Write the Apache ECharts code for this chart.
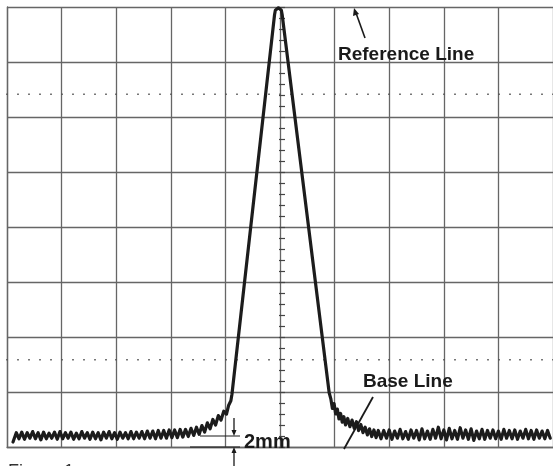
<!DOCTYPE html>
<html><head><meta charset="utf-8">
<script src="https://cdn.jsdelivr.net/npm/echarts@6/dist/echarts.min.js"></script>
<style>html,body{margin:0;padding:0;background:#fff}#c{width:553px;height:466px}</style>
</head><body><div id="c"></div>
<script>
// x in screen divisions, y in mm (1 division = 10 mm)
const xDivisions = [0, 10];
const yRangeMM = [0, 80];
const dottedLevelsMM = [16, 64];
const baseLineMM = 2;
const leftBaseline = [[0.11,0.9],[0.17,2.6],[0.22,1.5],[0.27,2.7],[0.32,1.4],[0.37,2.6],[0.42,1.6],[0.47,2.8],[0.52,1.5],[0.57,2.6],[0.62,1.3],[0.67,2.7],[0.72,1.5],[0.77,2.5],[0.82,1.6],[0.87,2.7],[0.92,1.4],[0.97,2.8],[1.02,1.5],[1.07,2.6],[1.12,1.6],[1.17,2.7],[1.22,1.4],[1.27,2.5],[1.32,1.5],[1.37,2.8],[1.42,1.6],[1.47,2.6],[1.52,1.4],[1.57,2.7],[1.62,1.5],[1.67,2.6],[1.72,1.3],[1.77,2.7],[1.82,1.6],[1.87,2.8],[1.92,1.5],[1.97,2.6],[2.02,1.4],[2.07,2.7],[2.12,1.6],[2.17,2.6],[2.22,1.5],[2.27,2.8],[2.32,1.5],[2.37,2.7],[2.42,1.6],[2.47,2.8],[2.52,1.5],[2.57,2.9],[2.62,1.6],[2.67,2.9],[2.72,1.5],[2.77,3.0],[2.82,1.6],[2.87,3.0],[2.92,1.6],[2.97,3.1],[3.02,1.7],[3.07,3.1],[3.12,1.7],[3.17,3.2]];
const leftRise = [[3.22,1.8],[3.27,3.2],[3.32,1.9],[3.37,3.4],[3.42,2.1],[3.47,3.6],[3.52,2.3],[3.57,3.9],[3.62,2.7],[3.67,4.4],[3.72,3.3],[3.77,5.0],[3.82,4.0],[3.87,5.7],[3.92,4.9],[3.97,6.5],[4.02,6.0],[4.06,7.6],[4.10,8.4],[4.12,9.6]];
const peak = [[4.90,78.6],[4.915,79.4],[4.94,79.75],[4.97,79.85],[5.0,79.75],[5.025,79.4],[5.04,78.6],[5.90,9.9]];
const rightFall = [[5.93,8.8],[5.96,7.0],[5.99,7.9],[6.02,6.0],[6.05,6.9],[6.08,5.1],[6.11,6.1],[6.14,4.5],[6.17,5.5],[6.20,4.0],[6.24,5.2],[6.28,3.7],[6.32,4.9],[6.36,3.4],[6.40,4.6],[6.44,3.0],[6.48,4.1],[6.52,2.6],[6.56,3.6],[6.60,2.2],[6.64,3.3],[6.68,1.9],[6.72,3.1],[6.76,1.7],[6.80,3.0]];
const rightBaseline = [[6.85,1.5],[6.90,3.0],[6.95,1.6],[7.00,3.1],[7.05,1.4],[7.10,2.9],[7.15,1.6],[7.20,3.2],[7.25,1.5],[7.30,2.8],[7.35,1.4],[7.40,3.1],[7.45,1.6],[7.50,3.0],[7.55,1.3],[7.60,3.3],[7.65,1.5],[7.70,2.9],[7.75,1.4],[7.80,3.2],[7.85,1.6],[7.90,3.6],[7.95,1.5],[8.00,3.1],[8.05,1.3],[8.10,3.4],[8.15,1.5],[8.20,3.0],[8.25,1.4],[8.30,3.5],[8.35,1.6],[8.40,3.1],[8.45,1.4],[8.50,3.3],[8.55,1.2],[8.60,2.9],[8.65,1.5],[8.70,3.2],[8.75,1.4],[8.80,3.0],[8.85,1.6],[8.90,3.1],[8.95,1.5],[9.00,2.9],[9.05,1.4],[9.10,3.2],[9.15,1.6],[9.20,3.0],[9.25,1.5],[9.30,3.1],[9.35,1.4],[9.40,2.9],[9.45,1.6],[9.50,3.2],[9.55,1.5],[9.60,3.0],[9.65,1.4],[9.70,3.1],[9.75,1.6],[9.80,2.9],[9.85,1.5],[9.90,3.0],[9.95,1.6]];
const labels = { reference: 'Reference Line', base: 'Base Line', dim: '2mm', fig: 'Figure 1' };

const trace = [].concat(leftBaseline, leftRise, peak, rightFall, rightBaseline);
const chart = echarts.init(document.getElementById('c'), null, {renderer: 'canvas'});
const gridCol = '#666';
const hiddenAxisBase = {axisLabel:{show:false}, splitLine:{show:false}, axisLine:{show:false, onZero:false}};
const GRID = {left: 7, right: -4, top: 7, bottom: 19};
const plotH = 466 - GRID.top - GRID.bottom;
const plotW = 553 - GRID.left - GRID.right;
const dotOffBottom = -(dottedLevelsMM[0] - yRangeMM[0]) / (yRangeMM[1]-yRangeMM[0]) * plotH;
const dotOffTop = -(yRangeMM[1] - dottedLevelsMM[1]) / (yRangeMM[1]-yRangeMM[0]) * plotH;
const centerOff = -(5 - xDivisions[0]) / (xDivisions[1]-xDivisions[0]) * plotW;
const dotAxis = (pos, off, gi) => Object.assign({}, hiddenAxisBase, {
  type:'value', gridIndex: gi, position: pos, offset: off, min: xDivisions[0], max: xDivisions[1], interval: 1,
  axisTick:{show:true, length:1.6, lineStyle:{color:'#555', width:1.6}},
  minorTick:{show:true, splitNumber:5, length:1.6, lineStyle:{color:'#555', width:1.6}}
});
const centerAxis = (inside, gi) => Object.assign({}, hiddenAxisBase, {
  type:'value', gridIndex: gi, position:'left', offset: centerOff, min: yRangeMM[0], max: yRangeMM[1], interval: 10,
  axisTick:{show:true, inside: inside, length:3, lineStyle:{color:'#444', width:1.2}},
  minorTick:{show:true, splitNumber:5, length:3, lineStyle:{color:'#444', width:1.2}}
});
chart.setOption({
  animation: false,
  backgroundColor: '#fff',
  grid: [GRID, Object.assign({}, GRID), Object.assign({}, GRID)],
  xAxis: [
    {type:'value', gridIndex:0, min:xDivisions[0], max:xDivisions[1], interval:1, axisLabel:{show:false}, axisTick:{show:false},
     axisLine:{show:true, lineStyle:{color:gridCol, width:1.3}},
     splitLine:{show:true, lineStyle:{color:gridCol, width:1.3}}},
    dotAxis('bottom', dotOffBottom, 1),
    dotAxis('top', dotOffTop, 2)
  ],
  yAxis: [
    {type:'value', gridIndex:0, min:yRangeMM[0], max:yRangeMM[1], interval:10, axisLabel:{show:false}, axisTick:{show:false},
     axisLine:{show:true, lineStyle:{color:gridCol, width:1.3}},
     splitLine:{show:true, lineStyle:{color:gridCol, width:1.3}}},
    centerAxis(true, 1),
    centerAxis(false, 2)
  ],
  series: [{
    type:'line', xAxisIndex:0, yAxisIndex:0, data: trace, showSymbol:false, smooth:false,
    lineStyle:{color:'#1c1c1c', width:3.2, join:'round', cap:'round'},
    z: 5
  }]
});

function px(x, y){ return chart.convertToPixel({xAxisIndex:0, yAxisIndex:0}, [x, y]); }
const base = px(0, baseLineMM), zero = px(0, 0);
const dimX = 234;
const txtFont = '"Liberation Sans", Arial, sans-serif';
const ink = '#1a1a1a';
chart.setOption({
  graphic: [
    {type:'text', left:338, top:45, z:10, style:{text:labels.reference, font:'bold 19px ' + txtFont, fill:ink}},
    {type:'line', z:10, shape:{x1:365, y1:38, x2:356, y2:13}, style:{stroke:ink, lineWidth:1.6}},
    {type:'polygon', z:10, shape:{points:[[354,8],[353,16],[359,14]]}, style:{fill:ink}},
    {type:'text', left:363, top:372, z:10, style:{text:labels.base, font:'bold 19px ' + txtFont, fill:ink}},
    {type:'line', z:10, shape:{x1:373, y1:397, x2:344, y2:449}, style:{stroke:ink, lineWidth:1.8}},
    {type:'line', z:10, shape:{x1:200, y1:base[1], x2:240, y2:base[1]}, style:{stroke:ink, lineWidth:1.2}},
    {type:'line', z:10, shape:{x1:190, y1:zero[1], x2:240, y2:zero[1]}, style:{stroke:ink, lineWidth:1.2}},
    {type:'line', z:10, shape:{x1:dimX, y1:base[1]-18, x2:dimX, y2:base[1]-3}, style:{stroke:ink, lineWidth:1.3}},
    {type:'polygon', z:10, shape:{points:[[dimX-2.5,base[1]-6],[dimX+2.5,base[1]-6],[dimX,base[1]]]}, style:{fill:ink}},
    {type:'line', z:10, shape:{x1:dimX, y1:zero[1]+3, x2:dimX, y2:468}, style:{stroke:ink, lineWidth:1.3}},
    {type:'polygon', z:10, shape:{points:[[dimX-2.5,zero[1]+6],[dimX+2.5,zero[1]+6],[dimX,zero[1]]]}, style:{fill:ink}},
    {type:'text', left:244, top:432, z:10, style:{text:labels.dim, font:'bold 20px ' + txtFont, fill:ink}},
    {type:'text', left:8, top:463, z:10, style:{text:labels.fig, font:'18px ' + txtFont, fill:'#333'}}
  ]
});
</script></body></html>
